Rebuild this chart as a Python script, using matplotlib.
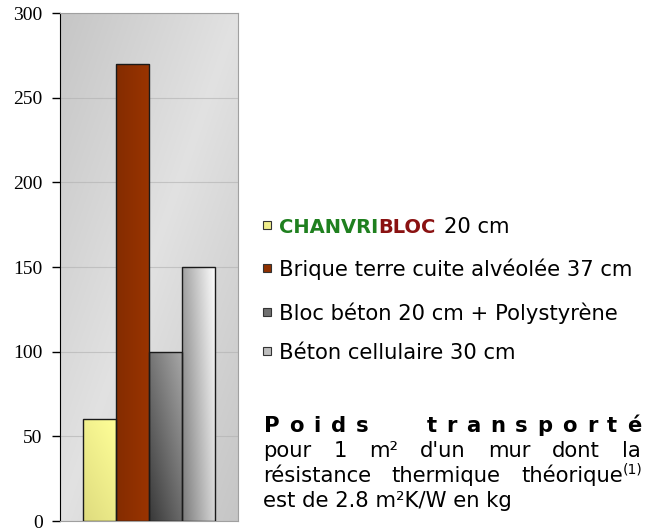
import numpy as np
import matplotlib.pyplot as plt
from matplotlib.patches import Rectangle
from matplotlib.colors import to_rgb

# données
labels = ["CHANVRIBLOC 20 cm", "Brique terre cuite alvéolée 37 cm",
          "Bloc béton 20 cm + Polystyrène", "Béton cellulaire 30 cm"]
poids = [60, 270, 100, 150]
yticks = [0, 50, 100, 150, 200, 250, 300]

# dégradés (bas, haut, poids horizontal)
grads = [("#dedb7e", "#ffff98", 0.4),
         ("#842c00", "#9a3400", 1.0),
         ("#383838", "#a8a8a8", 0.45),
         ("#7a7a7a", "#ffffff", 0.7)]

W, H = 652, 530
fig = plt.figure(figsize=(W / 100, H / 100), dpi=100)
ax = fig.add_axes([60 / W, 9 / H, 178 / W, 508 / H])

# fond en dégradé
xx, yy = np.meshgrid(np.linspace(0, 1, 200), np.linspace(0, 1, 200))
bg = 0.885 - 0.11 * np.abs(xx - yy)
ax.imshow(np.dstack([bg, bg, bg]), extent=[0, 1, 0, 1], transform=ax.transAxes,
          origin="lower", aspect="auto", zorder=0)

bw = 0.1854
u, v = np.meshgrid(np.linspace(0, 1, 60), np.linspace(0, 1, 120))
for i, val in enumerate(poids):
    x0 = (i - 1.5) * bw - bw / 2
    lo, hi, wu = grads[i]
    t = wu * u + (1 - wu) * v
    img = np.array(to_rgb(lo)) + t[..., None] * (np.array(to_rgb(hi)) - np.array(to_rgb(lo)))
    rect = Rectangle((x0, 0), bw, val, facecolor="none", edgecolor="#1a1a1a",
                     linewidth=1.0, zorder=4)
    ax.add_patch(rect)
    im = ax.imshow(img, extent=[x0, x0 + bw, 0, val], origin="lower",
                   aspect="auto", zorder=3)
    im.set_clip_path(rect)

ax.set_xlim(-0.5, 0.5)
ax.set_ylim(0, 300)
ax.set_yticks(yticks)
ax.set_xticks([])
ax.yaxis.grid(True, color="#b0b0b0", alpha=0.6, linewidth=0.8, zorder=1)
ax.set_axisbelow(True)
ax.tick_params(axis="y", direction="out", length=5.5, width=1, pad=7,
               labelsize=14, colors="black")
for lab in ax.get_yticklabels():
    lab.set_family("Liberation Serif")
ax.spines["left"].set_color("black")
for s in ["top", "right", "bottom"]:
    ax.spines[s].set_color("#a0a0a0")

# textes à droite
r = fig.canvas.get_renderer()
fs = 15.2
font = "DejaVu Sans"


def width(s, **kw):
    t = fig.text(0, 0, s, family=font, **kw)
    w = t.get_window_extent(r).width
    t.remove()
    return w


sp = width("x x", fontsize=fs) - width("xx", fontsize=fs)


def place(x, y, runs):
    for s, kw in runs:
        kw = dict(kw)
        dy = kw.pop("dy", 0)
        kw.setdefault("fontsize", fs)
        t = fig.text(x / W, 1 - (y - dy) / H, s, family=font, va="baseline",
                     ha="left", **kw)
        x += t.get_window_extent(r).width
    return x


def runs_w(runs):
    tot = 0
    for s, kw in runs:
        kw = dict(kw)
        kw.pop("dy", None)
        kw.setdefault("fontsize", fs)
        tot += width(s, **kw)
    return tot


def justify(words, y, x0, x1, weights=None):
    ws = [runs_w(w) for w in words]
    if weights is None:
        weights = [1] * (len(words) - 1)
    g = (x1 - x0 - sum(ws)) / sum(weights)
    x = x0
    for k, w in enumerate(words):
        place(x, y, w)
        if k < len(weights):
            x += ws[k] + g * weights[k]


# légende
ybase = [233, 276, 320, 359]
sq = 8
for i, lab in enumerate(labels):
    lo, hi, wu = grads[i]
    mid = np.array(to_rgb(lo)) * 0.5 + np.array(to_rgb(hi)) * 0.5
    fig.patches.append(Rectangle((263 / W, 1 - (ybase[i] - 4) / H), sq / W, sq / H,
                                 transform=fig.transFigure, facecolor=mid,
                                 edgecolor="#333333", linewidth=0.8))
    if i == 0:
        x = place(279, ybase[i], [("CHANVRI", dict(color="#1f801f", weight="bold", fontsize=14)),
                                  ("BLOC", dict(color="#8a1212", weight="bold", fontsize=14))])
        place(x + sp * 1.3, ybase[i], [(lab[len("CHANVRIBLOC") + 1:], {})])
    else:
        place(279, ybase[i], [(lab, {})])

# bloc de texte justifié
xl, xr = 264, 641
letters = list("Poids") + list("transporté")
gw = [1, 1, 1, 1, 6] + [1] * 9
justify([[(c, dict(weight="bold"))] for c in letters], 432, xl, xr, gw)
justify([[(w, {})] for w in "pour 1 m² d'un mur dont la".split()], 457, xl - 1, xr)
justify([[("résistance", {})], [("thermique", {})],
         [("théorique", {}), ("(1)", dict(fontsize=10, dy=8.5))]], 482, xl - 1, xr + 2)
place(xl - 1, 507, [("est de 2.8 m²K/W en kg", {})])

fig.savefig("out.png", dpi=100)
